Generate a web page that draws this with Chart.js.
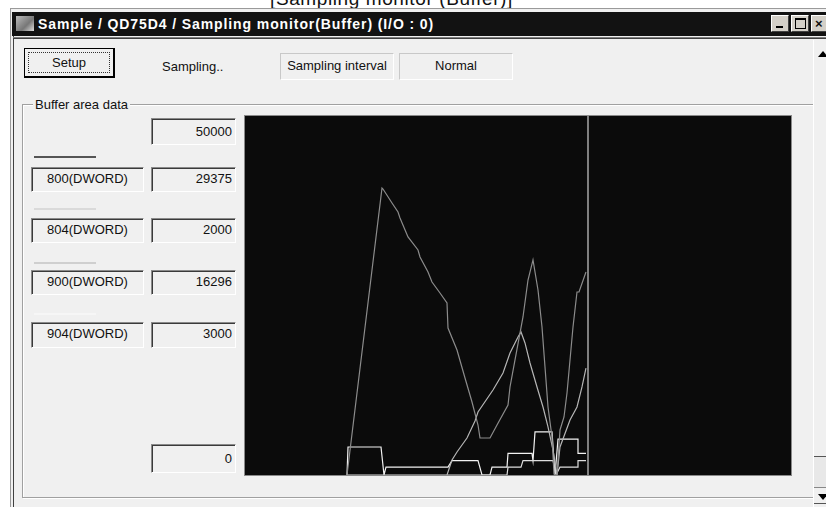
<!DOCTYPE html>
<html>
<head>
<meta charset="utf-8">
<script src="https://cdn.jsdelivr.net/npm/chart.js@4"></script>
<style>
  body { margin:0; width:826px; height:507px; overflow:hidden; background:#fff; position:relative;
         font-family:"Liberation Sans", Arial, sans-serif; font-size:13px; color:#111; }
  .abs { position:absolute; }
  .sunk { position:absolute; box-sizing:border-box; background:#f0f0f0;
          border-top:1px solid #8a8a8a; border-left:1px solid #8a8a8a;
          border-right:1px solid #fff; border-bottom:1px solid #fff;
          box-shadow: inset 1px 1px 0 #3a3a3a; line-height:22px; }
  .num { text-align:right; padding-right:3px; }
  .name { text-align:center; }
  .flat { position:absolute; box-sizing:border-box; border:1px solid #c8c8c8; border-right-color:#fff; border-bottom-color:#fff;
          text-align:center; line-height:24px; }
  .key { position:absolute; left:34px; width:62px; height:2px; }
</style>
</head>
<body>
<div class="abs" style="left:270px;top:-11px;font-size:19px;line-height:19px;letter-spacing:0.6px;">[Sampling monitor (Buffer)]</div>

<!-- window -->
<div class="abs" style="left:10px;top:8px;width:820px;height:505px;background:#f0f0f0;border-left:1px solid #9a9a9a;border-top:1px solid #9a9a9a;"></div>
<div class="abs" style="left:13px;top:36px;width:1px;height:471px;background:#404040;"></div>
<div class="abs" style="left:12px;top:12px;width:814px;height:24px;background:#121212;"></div>
<div class="abs" style="left:13px;top:37px;width:813px;height:1px;background:#808080;"></div>
<div class="abs" style="left:14px;top:38px;width:812px;height:1px;background:#404040;"></div>
<div class="abs" style="left:16px;top:16px;width:18px;height:15px;background:linear-gradient(135deg,#bbb,#777 60%,#ddd);"></div>
<div class="abs" style="left:38px;top:13px;color:#fff;font-weight:bold;font-size:14px;line-height:22px;letter-spacing:0.9px;">Sample / QD75D4 / Sampling monitor(Buffer) (I/O : 0)</div>
<div class="abs" style="left:771px;top:15px;width:18px;height:17px;background:#d4d0c8;border:1px solid #fff;border-right-color:#404040;border-bottom-color:#404040;box-sizing:border-box;"><div class="abs" style="left:4px;top:10px;width:7px;height:2px;background:#000;"></div></div>
<div class="abs" style="left:791px;top:15px;width:18px;height:17px;background:#d4d0c8;border:1px solid #fff;border-right-color:#404040;border-bottom-color:#404040;box-sizing:border-box;"><div class="abs" style="left:3px;top:2px;width:9px;height:8px;border:1px solid #000;border-top-width:2px;"></div></div>
<div class="abs" style="left:811px;top:15px;width:18px;height:17px;background:#d4d0c8;border:1px solid #fff;border-right-color:#404040;border-bottom-color:#404040;box-sizing:border-box;font-weight:bold;font-size:13px;line-height:15px;padding-left:3px;">×</div>

<!-- top controls -->
<div class="abs" style="left:24px;top:48px;width:91px;height:30px;box-sizing:border-box;border:1px solid #000;border-right-width:2px;border-bottom-width:2px;background:#f0f0f0;">
  <div class="abs" style="left:3px;top:3px;right:3px;bottom:3px;border:1px dotted #333;text-align:center;line-height:19px;">Setup</div>
</div>
<div class="abs" style="left:162px;top:58px;line-height:18px;">Sampling..</div>
<div class="flat" style="left:280px;top:53px;width:114px;height:27px;">Sampling interval</div>
<div class="flat" style="left:399px;top:53px;width:114px;height:27px;">Normal</div>

<!-- group box -->
<div class="abs" style="left:22px;top:104px;width:790px;height:392px;border:1px solid #a0a0a0;box-shadow:1px 1px 0 #fff, inset 1px 1px 0 #fff;"></div>
<div class="abs" style="left:33px;top:96px;padding:0 2px;background:#f0f0f0;line-height:18px;">Buffer area data</div>

<div class="sunk num" style="left:151px;top:118px;width:85px;height:27px;line-height:25px;">50000</div>
<div class="key" style="top:156px;background:#555;"></div>
<div class="sunk name" style="left:31px;top:167px;width:113px;height:25px;">800(DWORD)</div>
<div class="sunk num" style="left:151px;top:167px;width:85px;height:25px;">29375</div>
<div class="key" style="top:208px;background:#dadada;"></div>
<div class="sunk name" style="left:31px;top:218px;width:113px;height:25px;">804(DWORD)</div>
<div class="sunk num" style="left:151px;top:218px;width:85px;height:25px;">2000</div>
<div class="key" style="top:262px;background:#cfcfcf;"></div>
<div class="sunk name" style="left:31px;top:270px;width:113px;height:25px;">900(DWORD)</div>
<div class="sunk num" style="left:151px;top:270px;width:85px;height:25px;">16296</div>
<div class="key" style="top:313px;background:#f6f6f6;"></div>
<div class="sunk name" style="left:31px;top:322px;width:113px;height:26px;">904(DWORD)</div>
<div class="sunk num" style="left:151px;top:322px;width:85px;height:26px;">3000</div>
<div class="sunk num" style="left:151px;top:444px;width:85px;height:29px;line-height:27px;">0</div>

<!-- plot -->
<div class="abs" style="left:244px;top:115px;width:546px;height:359px;border:1px solid #8a8a8a;background:#0b0b0b;">
  <canvas id="monitor" width="546" height="359"></canvas>
</div>

<!-- scrollbar -->
<div class="abs" style="left:813px;top:40px;width:1px;height:467px;background:#fff;"></div>
<div class="abs" style="left:814px;top:40px;width:12px;height:467px;background:#f0f0f0;"></div>
<div class="abs" style="left:818px;top:51px;width:0;height:0;border-left:5px solid transparent;border-right:5px solid transparent;border-bottom:6px solid #000;"></div>
<div class="abs" style="left:814px;top:456px;width:12px;height:1px;background:#555;"></div>
<div class="abs" style="left:814px;top:457px;width:12px;height:30px;background:#e8e8e8;"></div>
<div class="abs" style="left:814px;top:487px;width:12px;height:1px;background:#888;"></div>
<div class="abs" style="left:818px;top:494px;width:0;height:0;border-left:5px solid transparent;border-right:5px solid transparent;border-top:6px solid #000;"></div>
<div class="abs" style="left:814px;top:503px;width:12px;height:1px;background:#555;"></div>

<script>
// sample index (x) and buffer value (y) for each monitored device
var t800 = [102,137,138,147,153,155,163,173,175,183,187,195,202,203,212,220,227,233,235,245,252,263,265,270,278,283,288,293,297,300,303,307,309,312,315,319,322,328,332,334,341];
var v800 = [0,39970,39830,37880,36630,35800,33150,31340,30360,28270,26880,25350,23960,20470,17410,13510,10170,6960,5150,5150,6960,9750,12260,16020,22010,27160,29950,25770,20610,15040,9470,5290,140,0,6270,8080,11420,20610,25490,25490,28270];

var t900 = [202,207,212,222,230,233,248,258,265,273,276,280,285,292,298,303,308,312,315,325,332,337,341];
var v900 = [0,2090,3200,5150,7520,8780,11840,14210,16990,19220,19920,18390,15600,12260,9470,6690,3480,0,3900,7660,9470,12260,14900];

var t804 = [102,262,263,276,278,308,311,315,333,333,341];
var v804 = [0,0,1100,1100,2000,2000,0,1100,1100,2000,2000];

var t904 = [102,103,136,139,141,203,207,233,237,245,247,262,263,287,288,290,307,310,313,333,333,341];
var v904 = [0,3900,3900,0,1100,1100,2000,2000,0,0,1100,1100,3000,3000,2000,6000,6000,0,5000,5000,3000,3000];

var cursorT = [343, 343];
var cursorV = [0, 50000];

var yMax = 50000;
var xMax = 546;

function pts(t, v) {
  var out = [];
  for (let i = 0; i < t.length; i++) {
    out[i] = {x: t[i], y: v[i]};
  }
  return out;
}

var ctx = document.getElementById('monitor');
var chart = new Chart(ctx, {
  type: 'line',
  data: {
    datasets: [
      {label: '800(DWORD)', data: pts(t800, v800), borderColor: '#8c8c8c'},
      {label: '900(DWORD)', data: pts(t900, v900), borderColor: '#b6b6b6'},
      {label: '804(DWORD)', data: pts(t804, v804), borderColor: '#dedede'},
      {label: '904(DWORD)', data: pts(t904, v904), borderColor: '#f2f2f2'},
      {label: 'cursor', data: pts(cursorT, cursorV), borderColor: '#cfcfcf'}
    ]
  },
  options: {
    responsive: false,
    animation: false,
    layout: {padding: 0},
    elements: {
      point: {radius: 0},
      line: {borderWidth: 1.2, tension: 0}
    },
    plugins: {legend: {display: false}, tooltip: {enabled: false}},
    scales: {
      x: {type: 'linear', min: 0, max: xMax, display: false},
      y: {min: 0, max: yMax, display: false}
    }
  }
});
</script>
</body>
</html>
